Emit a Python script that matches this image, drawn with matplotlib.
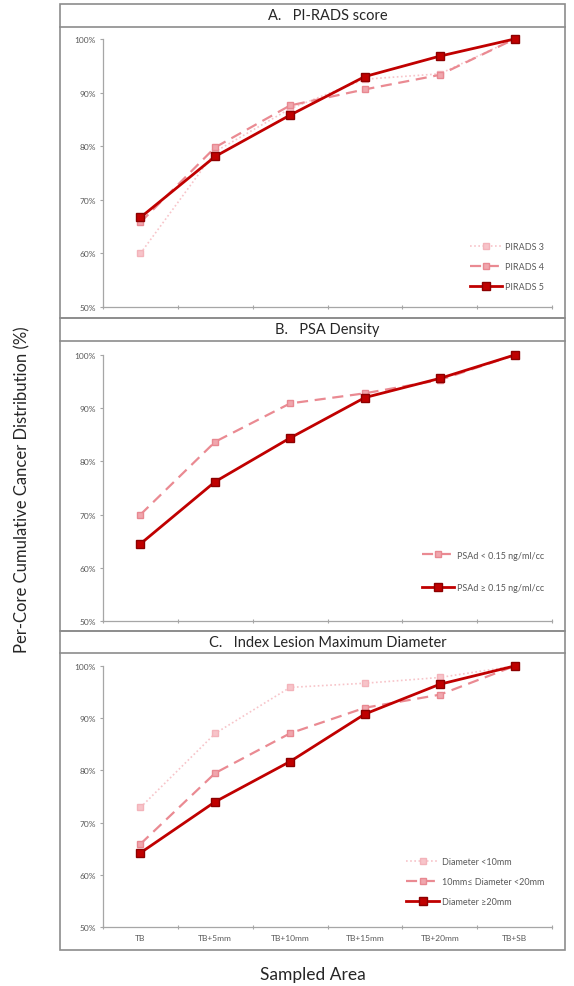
import matplotlib
matplotlib.use('Agg')
import matplotlib.pyplot as plt
from matplotlib.patches import Rectangle
from matplotlib.lines import Line2D
from matplotlib.ticker import FixedLocator, FuncFormatter

plt.rcParams['font.family'] = ['Lato', 'DejaVu Sans']

# Данные
areas = ['TB', 'TB+5mm', 'TB+10mm', 'TB+15mm', 'TB+20mm', 'TB+SB']

pirads_labels = ['PIRADS 3', 'PIRADS 4', 'PIRADS 5']
pirads3 = [60.0, 79.0, 87.0, 92.5, 93.5, 100.0]
pirads4 = [65.8, 79.8, 87.6, 90.6, 93.3, 100.0]
pirads5 = [66.7, 78.1, 85.8, 93.0, 96.8, 100.0]

psad_labels = ['PSAd < 0.15 ng/ml/cc', 'PSAd \u2265 0.15 ng/ml/cc']
psad_low = [70.0, 83.7, 90.9, 92.8, 95.3, 100.0]
psad_high = [64.5, 76.2, 84.4, 92.0, 95.6, 100.0]

diam_labels = ['Diameter <10mm', '10mm\u2264 Diameter <20mm', 'Diameter \u226520mm']
diam_small = [72.9, 87.1, 95.9, 96.7, 97.8, 100.0]
diam_mid = [65.9, 79.5, 87.1, 92.0, 94.5, 100.0]
diam_large = [64.2, 74.0, 81.7, 90.8, 96.5, 100.0]

titles = ['A.   PI-RADS score', 'B.   PSA Density', 'C.   Index Lesion Maximum Diameter']

# Стили линий: светлая пунктирная, средняя штриховая, тёмная сплошная
light = dict(color='#f7c4c9', ls=(0, (1, 1.5)), lw=1.2, marker='s', ms=4.5,
             mfc='#f7c4c9', mec='#f3b3ba')
mid = dict(color='#ea8a92', ls=(0, (5, 3)), lw=1.6, marker='s', ms=4.5,
           mfc='#f0a6ad', mec='#e88891')
dark = dict(color='#c00000', ls='-', lw=2.0, marker='s', ms=5.5,
            mfc='#c00000', mec='#8b0000')

W, H = 574, 987
fig = plt.figure(figsize=(W / 100, H / 100), dpi=100)

# Позиции в пикселях: (верх рамки, низ заголовка, верх осей, низ осей, низ рамки)
panels = [(5, 28, 40, 308, 319),
          (319, 342, 356, 622, 632),
          (632, 654, 667, 928, 951)]
frame_l, frame_r = 60, 565
ax_l, ax_r = 103, 552

series = [
    [(pirads3, light), (pirads4, mid), (pirads5, dark)],
    [(psad_low, mid), (psad_high, dark)],
    [(diam_small, light), (diam_mid, mid), (diam_large, dark)],
]
labels = [pirads_labels, psad_labels, diam_labels]
leg_spacing = [1.25, 2.6, 1.25]
leg_anchor = [(0.99, 0.045), (0.99, 0.095), (0.99, 0.065)]

frame_col = '#8c8c8c'
x = list(range(len(areas)))

for i, (top, ttl_bot, ay_top, ay_bot, bot) in enumerate(panels):
    # Рамка панели и полоса заголовка
    fig.patches.append(Rectangle((frame_l / W, 1 - bot / H), (frame_r - frame_l) / W,
                                 (bot - top) / H, transform=fig.transFigure,
                                 fill=False, ec=frame_col, lw=1.2))
    fig.lines.append(Line2D([frame_l / W, frame_r / W], [1 - ttl_bot / H] * 2,
                            transform=fig.transFigure, color=frame_col, lw=1.2))
    fig.text((ax_l + ax_r) / 2 / W, 1 - (top + ttl_bot) / 2 / H, titles[i],
             ha='center', va='center', fontsize=10.5, color='#262626')

    ax = fig.add_axes([ax_l / W, 1 - ay_bot / H, (ax_r - ax_l) / W, (ay_bot - ay_top) / H])
    for (vals, st), lab in zip(series[i], labels[i]):
        ax.plot(x, vals, label=lab, clip_on=False, **st)

    ax.set_xlim(-0.5, len(areas) - 0.5)
    ax.set_ylim(50, 100)
    ax.set_yticks(range(50, 101, 10))
    ax.yaxis.set_major_formatter(FuncFormatter(lambda v, p: f'{v:.0f}%'))
    ax.xaxis.set_major_locator(FixedLocator([k - 0.5 for k in range(len(areas) + 1)]))
    ax.xaxis.set_major_formatter(FuncFormatter(lambda v, p: ''))
    ax.xaxis.set_minor_locator(FixedLocator(x))
    if i == 2:
        ax.set_xticklabels(areas, minor=True)
    ax.tick_params(axis='x', which='minor', length=0, labelsize=6, labelcolor='#595959', pad=5)
    ax.tick_params(axis='x', which='major', length=3, direction='inout', color='#a6a6a6')
    ax.tick_params(axis='y', length=2, color='#a6a6a6', labelsize=6, labelcolor='#595959', pad=3)
    for s in ['top', 'right']:
        ax.spines[s].set_visible(False)
    for s in ['left', 'bottom']:
        ax.spines[s].set_color('#a6a6a6')
        ax.spines[s].set_linewidth(0.9)

    ax.legend(loc='lower right', bbox_to_anchor=leg_anchor[i], frameon=False,
              fontsize=6.5, labelcolor='#595959', handlelength=3.6,
              handletextpad=0.3, labelspacing=leg_spacing[i], borderaxespad=0)

fig.text(22 / W, 1 - 490 / H, 'Per-Core Cumulative Cancer Distribution (%)',
         rotation=90, ha='center', va='center', fontsize=12, color='#262626')
fig.text(313 / W, 1 - 975 / H, 'Sampled Area', ha='center', va='center',
         fontsize=12.5, color='#262626')

plt.savefig('out.png', dpi=100)
